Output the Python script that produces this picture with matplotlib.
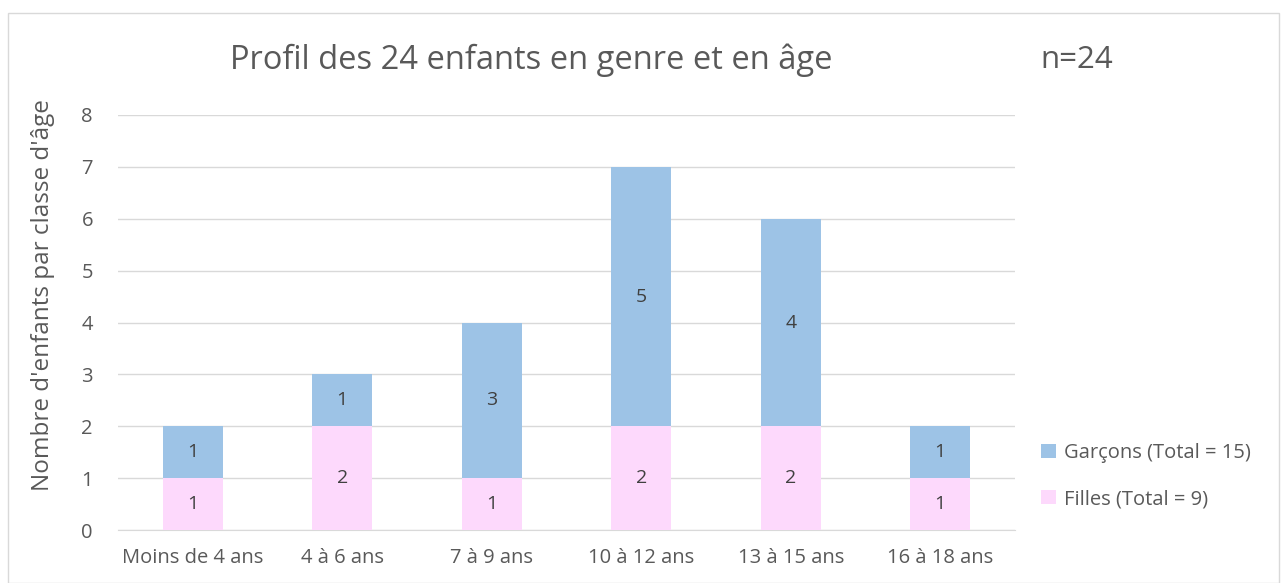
import matplotlib.pyplot as plt
import matplotlib
from matplotlib.patches import Rectangle

matplotlib.rcParams['font.family'] = ['Open Sans', 'DejaVu Sans']
matplotlib.rcParams['text.color'] = '#595959'

categories = ['Moins de 4 ans', '4 à 6 ans', '7 à 9 ans', '10 à 12 ans', '13 à 15 ans', '16 à 18 ans']
filles = [1, 2, 1, 2, 2, 1]
garcons = [1, 1, 3, 5, 4, 1]
yticks = list(range(0, 9))

c_g = '#9DC3E6'
c_f = '#FDD9FC'
grey = '#595959'

fig = plt.figure(figsize=(12.87, 5.83), dpi=100)
fig.patches.append(Rectangle((8 / 1287, 0), 1 - 16 / 1287, 1 - 13 / 583,
                             transform=fig.transFigure, fill=False, edgecolor='#D9D9D9', lw=1))
ax = fig.add_axes([118 / 1287, 1 - 530 / 583, (1015 - 118) / 1287, (530 - 115) / 583])

x = range(len(categories))
b1 = ax.bar(x, filles, width=0.4, color=c_f, label='Filles (Total = 9)', zorder=3)
b2 = ax.bar(x, garcons, width=0.4, bottom=filles, color=c_g, label='Garçons (Total = 15)', zorder=3)
ax.bar_label(b1, label_type='center', fontsize=14, color='#404040')
ax.bar_label(b2, label_type='center', fontsize=14, color='#404040')

ax.set_xlim(-0.5, len(categories) - 0.5)
ax.set_ylim(0, 8)
ax.set_yticks(yticks)
ax.set_xticks(list(x))
ax.set_xticklabels(categories)
ax.tick_params(axis='both', length=0, labelsize=14.5, colors=grey)
ax.tick_params(axis='x', pad=13)
ax.tick_params(axis='y', pad=18)
ax.yaxis.grid(True, color='#D9D9D9', lw=1, zorder=0)
for s in ['top', 'right', 'left']:
    ax.spines[s].set_visible(False)
ax.spines['bottom'].set_color('#D9D9D9')
ax.set_ylabel("Nombre d'enfants par classe d'âge", fontsize=17.5, color=grey)
ax.yaxis.set_label_coords(-0.07, 0.566)

fig.text(531 / 1287, 1 - 60 / 583, 'Profil des 24 enfants en genre et en âge', fontsize=23.5,
         color=grey, ha='center', va='center')
fig.text(1040 / 1287, 1 - 60 / 583, 'n=24', fontsize=22.5, color=grey, ha='left', va='center')

handles, labels = ax.get_legend_handles_labels()
ax.legend(handles[::-1], labels[::-1], loc='center left', bbox_to_anchor=(1.009, 0.13),
          frameon=False, fontsize=14.5, handlelength=0.75, handleheight=0.75,
          labelspacing=1.3, handletextpad=0.4, labelcolor=grey)

fig.savefig('out.png', dpi=100)
